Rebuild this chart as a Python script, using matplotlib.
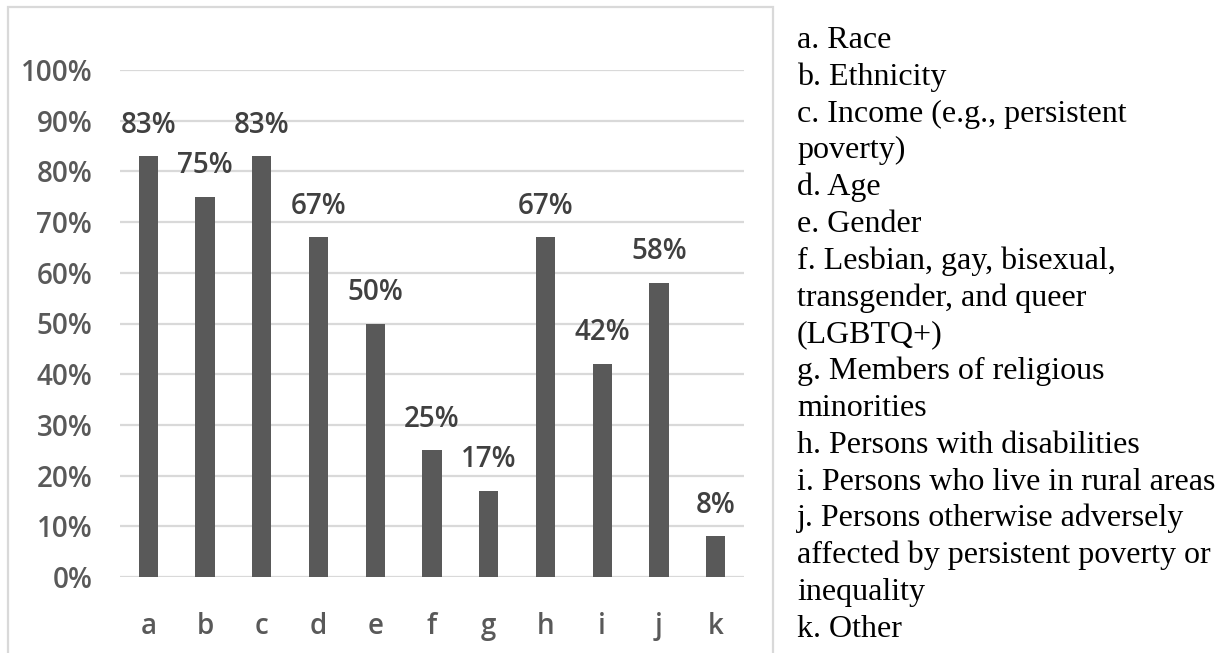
import matplotlib
matplotlib.use("Agg")
import matplotlib.pyplot as plt
from matplotlib.patches import Rectangle

categories = ["a", "b", "c", "d", "e", "f", "g", "h", "i", "j", "k"]
values = [83, 75, 83, 67, 50, 25, 17, 67, 42, 58, 8]
y_ticks = [0, 10, 20, 30, 40, 50, 60, 70, 80, 90, 100]
key_lines = [
    "a. Race",
    "b. Ethnicity",
    "c. Income (e.g., persistent",
    "poverty)",
    "d. Age",
    "e. Gender",
    "f. Lesbian, gay, bisexual,",
    "transgender, and queer",
    "(LGBTQ+)",
    "g. Members of religious",
    "minorities",
    "h. Persons with disabilities",
    "i. Persons who live in rural areas",
    "j. Persons otherwise adversely",
    "affected by persistent poverty or",
    "inequality",
    "k. Other",
]

W, H = 1218, 653
fig = plt.figure(figsize=(W / 100, H / 100), dpi=100)
fig.patch.set_facecolor("white")

# chart frame (open at the bottom edge of the figure)
fig.patches.append(Rectangle((8 / W, -0.05), (773 - 8) / W, 1.05 - 7 / H,
                             transform=fig.transFigure, fill=False,
                             edgecolor="#d9d9d9", linewidth=1.6))

ax = fig.add_axes([120 / W, (H - 577) / H, (744 - 120) / W, (577 - 70) / H])
x = list(range(len(categories)))
ax.bar(x, values, width=0.34, color="#595959", zorder=3)
ax.set_xlim(-0.5, len(categories) - 0.5)
ax.set_ylim(0, 100)
ax.set_yticks(y_ticks)
ax.set_yticklabels([f"{t}%" for t in y_ticks])
ax.set_xticks(x)
ax.set_xticklabels(categories)
for s in ax.spines.values():
    s.set_visible(False)
ax.tick_params(length=0)
ax.tick_params(axis="y", pad=20, labelsize=20, labelcolor="#595959")
ax.tick_params(axis="x", pad=25, labelsize=20, labelcolor="#595959")
for lab in ax.get_xticklabels() + ax.get_yticklabels():
    lab.set_fontfamily("Open Sans")
    lab.set_fontweight("semibold")
ax.grid(axis="y", color="#d9d9d9", linewidth=1.6, zorder=0)
ax.set_axisbelow(True)

for xi, v in zip(x, values):
    ax.annotate(f"{v}%", (xi, v), xytext=(0, 12), textcoords="offset points",
                ha="center", va="bottom", fontsize=20, color="#404040",
                fontfamily="Open Sans", fontweight="semibold")

for i, line in enumerate(key_lines):
    fig.text(797 / W, 1 - (48 + i * 36.8) / H, line, fontsize=23,
             fontfamily="Liberation Serif", color="black",
             va="baseline", ha="left")

fig.savefig("out.png", dpi=100)
